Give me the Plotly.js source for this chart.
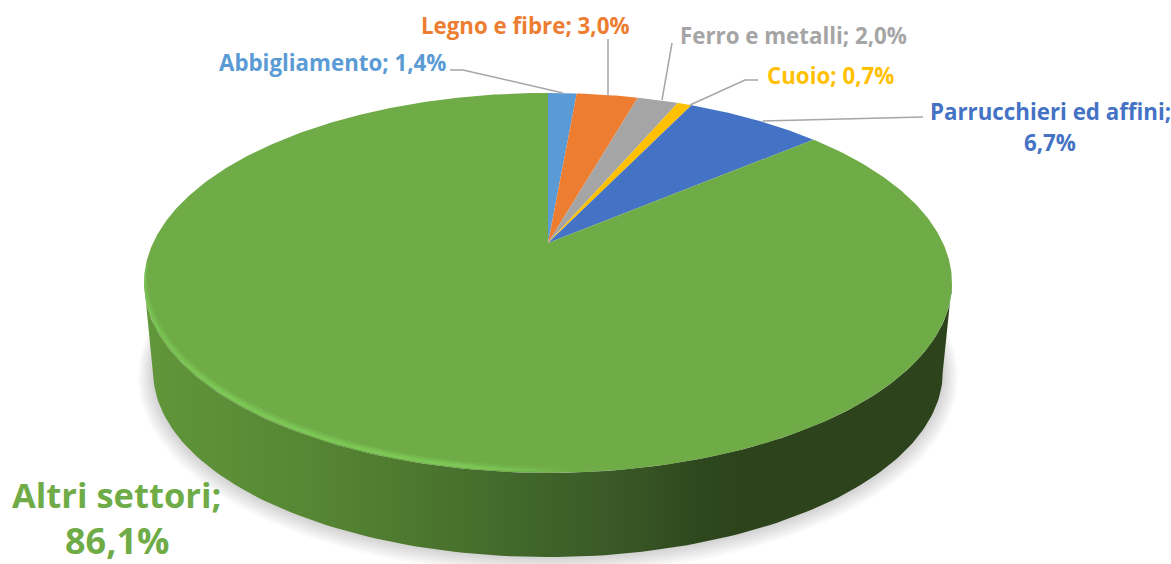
<!DOCTYPE html>
<html>
<head>
<meta charset="utf-8">
<script src="https://cdn.plot.ly/plotly-3.0.1.min.js"></script>
<style>html,body{margin:0;padding:0;background:#fff;overflow:hidden}#chart{width:1171px;height:564px}</style>
</head>
<body>
<div id="chart"></div>
<script>
// Data
const categories = ['Abbigliamento', 'Legno e fibre', 'Ferro e metalli', 'Cuoio', 'Parrucchieri ed affini', 'Altri settori'];
const shares = [1.4, 3.0, 2.0, 0.7, 6.7, 86.1];
const sliceColors = ['#5B9BD5', '#ED7D31', '#A5A5A5', '#FFC000', '#4472C4', '#6FAC47'];

// Perspective projection of the pie disc onto the pixel-scaled axes
const top3d = {cx: 548, cy: 243, a: 395, b: 181.6, p: 0.21};
const base3d = {cx: 548, cy: 333, a: 386, b: 177, p: 0.21};
function project(g, deg) {
  const t = deg * Math.PI / 180, u = Math.sin(t), v = Math.cos(t), w = 1 + g.p * v;
  return [g.cx + g.a * u / w, g.cy - g.b * v / w];
}
function arc(g, from, to, steps) {
  const pts = [];
  for (let i = 0; i <= steps; i++) pts.push(project(g, from + (to - from) * i / steps));
  return pts;
}
function poly(pts, extra) {
  return Object.assign({
    type: 'scatter', mode: 'lines', fill: 'toself', hoverinfo: 'skip', showlegend: false,
    x: pts.map(p => p[0]), y: pts.map(p => p[1]), line: {width: 0}
  }, extra);
}

const traces = [];

// Soft shadow below the disc
for (let k = 7; k >= 1; k--) {
  const g = {cx: base3d.cx, cy: base3d.cy + k * 0.4, a: base3d.a + k * 2.1, b: base3d.b + k * 1.6, p: base3d.p};
  traces.push(poly(arc(g, 60, 300, 120), {fillcolor: 'rgba(0,0,0,0.022)'}));
}

// Side wall with its left-to-right shading
const wallPts = arc(base3d, 180 - 78, 180 + 78, 140).concat(arc(top3d, 180 + 78, 180 - 78, 140));
traces.push(poly(wallPts, {
  fillgradient: {
    type: 'horizontal', start: 146, stop: 950,
    colorscale: [
      [0, '#61963A'], [0.2, '#568734'], [0.32, '#4E7A2F'], [0.48, '#40652A'],
      [0.61, '#375525'], [0.69, '#2E471D'], [0.76, '#2D431B'], [1, '#2D431B']
    ]
  }
}));

// Slices of the top face, taken from the shares
const total = shares.reduce((s, v) => s + v, 0);
let running = 0;
shares.forEach((value, i) => {
  const from = running / total * 360;
  running += value;
  const to = running / total * 360;
  const pts = [[top3d.cx, top3d.cy]].concat(arc(top3d, from, to, Math.max(4, Math.ceil((to - from) * 2))));
  pts.push(pts[0]);
  traces.push(poly(pts, {
    name: categories[i], fillcolor: sliceColors[i],
    hoverinfo: 'text', text: categories[i] + '; ' + value.toFixed(1).replace('.', ',') + '%', hoveron: 'fills'
  }));
});

// Soft bevel highlight on the near-left rim, built from layers of decreasing width
[[7, 0.3], [5, 0.5], [3.2, 0.7]].forEach(([w, alpha]) => {
  const inner = {cx: top3d.cx, cy: top3d.cy - w, a: top3d.a - w * 0.45, b: top3d.b, p: top3d.p};
  const outerRim = {cx: top3d.cx, cy: top3d.cy - 1, a: top3d.a - 0.3, b: top3d.b, p: top3d.p};
  const pts = arc(outerRim, 262, 170, 100).concat(arc(inner, 170, 262, 100));
  traces.push(poly(pts, {
    fillgradient: {
      type: 'horizontal', start: 145, stop: 570,
      colorscale: [[0, `rgba(126,204,88,${alpha * 0.6})`], [0.2, `rgba(126,204,88,${alpha})`], [0.75, `rgba(126,204,88,${alpha})`], [1, 'rgba(126,204,88,0)']]
    }
  }));
});

function pct(i) {
  return shares[i].toFixed(1).replace('.', ',') + '%';
}
function note(i, text, x, y, size) {
  return {
    xref: 'x', yref: 'y', x, y, text: '<b>' + text + '</b>', showarrow: false, xanchor: 'center', yanchor: 'middle',
    align: 'center', font: {family: '"Open Sans", sans-serif', size, color: sliceColors[i]}
  };
}
const annotations = [
  note(0, categories[0] + '; ' + pct(0), 332.5, 62, 22.3),
  note(1, categories[1] + '; ' + pct(1), 525.5, 25, 22.3),
  note(2, categories[2] + '; ' + pct(2), 793, 35, 22.3),
  note(3, categories[3] + '; ' + pct(3), 830, 75, 22.3),
  note(4, categories[4] + ';', 1050, 111, 22.3),
  note(4, pct(4), 1050, 142, 22.3),
  note(5, categories[5] + ';', 116, 494, 34.5),
  note(5, pct(5), 117, 540, 36)
];

function leader(path) {
  return {type: 'path', xref: 'x', yref: 'y', path, line: {color: '#A6A6A6', width: 1.5}, layer: 'above'};
}
const shapes = [
  leader('M450,70 L463,70 L563,93'),
  leader('M608,39 L608,96'),
  leader('M672,43 L662,100'),
  leader('M758,80 L745,80 L690,105'),
  leader('M923,117 L762,121')
];

Plotly.newPlot('chart', traces, {
  width: 1171, height: 564,
  margin: {l: 0, r: 0, t: 0, b: 0},
  paper_bgcolor: '#fff', plot_bgcolor: '#fff',
  showlegend: false,
  xaxis: {range: [0, 1171], visible: false, fixedrange: true},
  yaxis: {range: [564, 0], visible: false, fixedrange: true},
  annotations, shapes
}, {displayModeBar: false, responsive: false});
</script>
</body>
</html>
